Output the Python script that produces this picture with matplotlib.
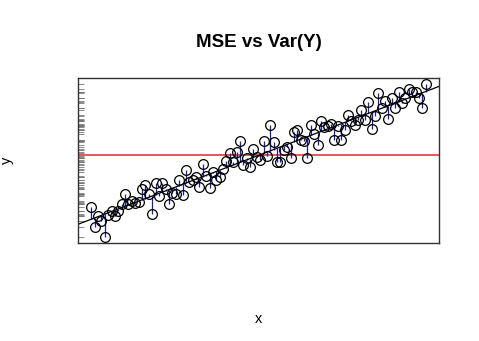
import matplotlib.pyplot as plt
import numpy as np

plt.rcParams['font.family'] = ['Liberation Sans', 'DejaVu Sans']

# observations (x = index, y = response)
x = np.arange(1, 101)
y = np.array([
    43.3, 23.3, 34.3, 29.3, 14.0, 36.0, 39.3, 34.3, 40.0, 46.7,
    56.7, 46.7, 49.0, 47.7, 48.3, 61.0, 65.0, 56.7, 36.7, 67.3,
    54.7, 67.3, 61.0, 46.7, 57.3, 56.0, 70.7, 55.0, 80.0, 68.3,
    70.7, 72.7, 63.3, 85.7, 74.0, 62.7, 78.3, 70.0, 73.3, 80.7,
    89.3, 97.3, 88.3, 98.3, 108.3, 85.0, 91.7, 83.3, 101.0, 92.7,
    90.0, 109.0, 94.0, 125.0, 107.3, 88.0, 87.7, 100.0, 102.7, 91.7,
    117.3, 120.0, 109.3, 108.3, 91.7, 125.0, 116.0, 105.0, 128.3, 122.7,
    124.0, 126.0, 110.0, 124.0, 110.0, 119.3, 134.3, 128.3, 125.0, 130.0,
    139.3, 130.0, 147.3, 120.7, 133.3, 156.0, 141.7, 148.3, 130.7, 151.7,
    141.7, 157.3, 146.7, 151.7, 160.0, 157.3, 157.3, 151.7, 141.7, 165.0,
])

# least squares fit and sample mean
slope, intercept = np.polyfit(x, y, 1)
fitted = intercept + slope * x
y_mean = y.mean()

fig = plt.figure(figsize=(4.79, 3.41), dpi=100)
ax = fig.add_axes([0.1628, 0.2874, 0.7537, 0.4839])

# residuals to the fitted line
ax.vlines(x, fitted, y, color='#1c1ca8', linewidth=0.9, zorder=2)
ax.axhline(y_mean, color='#e05a5a', linewidth=1.4, zorder=1)
ax.axline((0, intercept), slope=slope, color='black', linewidth=0.9, zorder=2)
ax.plot(x, y, 'o', markerfacecolor='none', markeredgecolor='black',
        markersize=7, markeredgewidth=0.9, zorder=3)

ax.set_xlim(x.min() - 0.04 * np.ptp(x), x.max() + 0.04 * np.ptp(x))
ax.set_ylim(y.min() - 0.04 * np.ptp(y), y.max() + 0.04 * np.ptp(y))

# rug of y values along the left side
ax.set_xticks([])
ax.set_yticks(y)
ax.tick_params(axis='y', direction='in', length=4.5, width=0.6,
               color='#777777', labelleft=False)
for s in ax.spines.values():
    s.set_color('#333333')
    s.set_linewidth(1.0)

ax.text(0.5, 1.218, 'MSE vs Var(Y)', transform=ax.transAxes, ha='center',
        va='center', fontsize=13.5, fontweight='bold')
ax.set_xlabel('x', fontsize=10.5)
ax.set_ylabel('y', fontsize=10.5)
ax.xaxis.set_label_coords(0.5, -0.418)
ax.yaxis.set_label_coords(-0.177, 0.5)

fig.savefig('out.png', dpi=100)
